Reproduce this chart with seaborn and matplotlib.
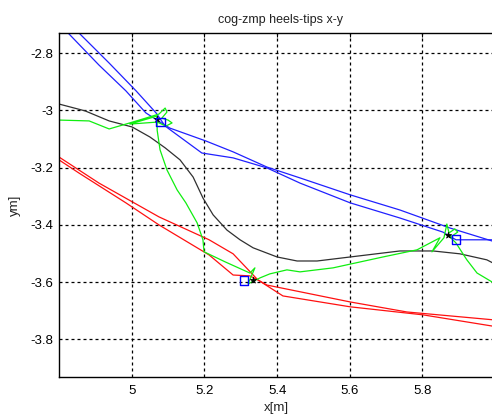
import matplotlib
matplotlib.use("Agg")
import matplotlib.pyplot as plt
import seaborn as sns
import numpy as np

# ---- data ----
cog_x = [4.800, 4.872, 4.938, 5.001, 5.050, 5.092, 5.133, 5.169, 5.196, 5.224, 5.262,
         5.298, 5.334, 5.400, 5.455, 5.510, 5.601, 5.738, 5.829, 5.903, 5.977, 6.041]
cog_y = [-2.978, -3.002, -3.037, -3.058, -3.093, -3.131, -3.173, -3.233, -3.306, -3.365,
         -3.418, -3.452, -3.480, -3.512, -3.526, -3.526, -3.512, -3.491, -3.491, -3.501,
         -3.522, -3.564]

blueA_x = [4.803, 4.825, 4.910, 4.984, 5.039, 5.078, 5.105, 5.204, 5.279, 5.372, 5.463,
           5.601, 5.738, 5.876, 5.991, 6.068]
blueA_y = [-2.702, -2.730, -2.842, -2.932, -3.009, -3.041, -3.062, -3.107, -3.145, -3.198,
           -3.236, -3.295, -3.348, -3.411, -3.456, -3.484]
blueB_x = [4.833, 4.855, 4.938, 5.012, 5.067, 5.092, 5.193, 5.279, 5.372, 5.463, 5.601,
           5.738, 5.856, 5.892, 5.991, 6.068]
blueB_y = [-2.702, -2.730, -2.835, -2.932, -3.009, -3.055, -3.149, -3.166, -3.201, -3.254,
           -3.323, -3.376, -3.425, -3.452, -3.452, -3.452]

redA_x = [4.775, 4.800, 4.910, 5.075, 5.213, 5.279, 5.347, 5.416, 5.601, 5.801, 5.991, 6.068]
redA_y = [-3.145, -3.163, -3.254, -3.372, -3.452, -3.501, -3.592, -3.648, -3.686, -3.714,
          -3.753, -3.770]
redB_x = [4.775, 4.800, 4.855, 4.984, 5.075, 5.213, 5.279, 5.325, 5.347, 5.372, 5.601,
          5.757, 5.991, 6.068]
redB_y = [-3.156, -3.173, -3.219, -3.323, -3.400, -3.505, -3.575, -3.578, -3.592, -3.610,
          -3.669, -3.704, -3.731, -3.745]

zmp_x = [4.800, 4.883, 4.938, 4.984, 5.039, 5.075, 5.092, 5.097, 5.083, 5.100, 5.111,
         5.094, 5.070, 4.995, 5.070, 5.070, 5.078, 5.097, 5.125, 5.149, 5.180, 5.196,
         5.199, 5.257, 5.325, 5.339, 5.320, 5.353, 5.380, 5.427, 5.463, 5.554, 5.691,
         5.785, 5.848, 5.826, 5.859, 5.867, 5.873, 5.889, 5.897, 5.881, 5.870, 5.892,
         5.922, 5.950, 5.991, 6.068]
zmp_y = [-3.034, -3.037, -3.065, -3.048, -3.027, -3.013, -2.992, -3.006, -3.027, -3.034,
         -3.044, -3.055, -3.041, -3.048, -3.020, -3.069, -3.138, -3.208, -3.278, -3.323,
         -3.393, -3.452, -3.494, -3.529, -3.568, -3.550, -3.606, -3.585, -3.571, -3.557,
         -3.564, -3.550, -3.512, -3.487, -3.445, -3.494, -3.445, -3.397, -3.428, -3.414,
         -3.425, -3.439, -3.435, -3.463, -3.522, -3.568, -3.599, -3.662]

step_x = [5.069, 5.333, 5.871]
step_y = [-3.030, -3.592, -3.435]
square_x = [5.079, 5.309, 5.892]
square_y = [-3.041, -3.594, -3.452]

xticks = [5.0, 5.2, 5.4, 5.6, 5.8, 6.0]
xtick_labels = ["5", "5.2", "5.4", "5.6", "5.8", "6"]
yticks = [-3.8, -3.6, -3.4, -3.2, -3.0, -2.8]
ytick_labels = ["-3.8", "-3.6", "-3.4", "-3.2", "-3", "-2.8"]

# ---- plot ----
sns.set_style("white")
plt.rcParams['font.family'] = ['Liberation Sans', 'DejaVu Sans']

fig = plt.figure(figsize=(4.92, 4.17), dpi=100)
fig.patch.set_facecolor("white")
ax = fig.add_axes([59/492, 40.3/417, 508.9/492, 343.7/417])
ax.set_facecolor("white")

lw = 0.9
sns.lineplot(x=redA_x, y=redA_y, sort=False, estimator=None, color="#ff1010", lw=lw, ax=ax)
sns.lineplot(x=redB_x, y=redB_y, sort=False, estimator=None, color="#ff1010", lw=lw, ax=ax)
sns.lineplot(x=blueA_x, y=blueA_y, sort=False, estimator=None, color="#2020ff", lw=lw, ax=ax)
sns.lineplot(x=blueB_x, y=blueB_y, sort=False, estimator=None, color="#2020ff", lw=lw, ax=ax)
sns.lineplot(x=cog_x, y=cog_y, sort=False, estimator=None, color="#303030", lw=lw, ax=ax)
sns.lineplot(x=zmp_x, y=zmp_y, sort=False, estimator=None, color="#10ee10", lw=lw, ax=ax)
sns.scatterplot(x=step_x, y=step_y, marker="*", s=22, color="black", edgecolor="black",
                linewidth=0.5, ax=ax, zorder=5)
sns.scatterplot(x=square_x, y=square_y, marker="s", s=40, facecolor="none",
                edgecolor="#0000ff", linewidth=1.0, ax=ax, zorder=6)

ax.set_xlim(4.8, 6.2)
ax.set_ylim(-3.93, -2.73)
ax.set_xticks(xticks)
ax.set_xticklabels(xtick_labels)
ax.set_yticks(yticks)
ax.set_yticklabels(ytick_labels)
ax.tick_params(direction="in", length=3, width=0.8, colors="black", labelsize=9.5,
               pad=4, top=True, right=True)
ax.tick_params(axis="x", pad=6)
ax.grid(True, color="black", linestyle=(0, (2.4, 2.4)), linewidth=0.9)
for s in ax.spines.values():
    s.set_color("black")
    s.set_linewidth(1.0)
    s.set_visible(True)

ax.set_title("cog-zmp heels-tips x-y", fontsize=9, pad=7, color="#222222")
ax.set_xlabel("x[m]", fontsize=9.5, labelpad=2, color="#222222")
ax.set_ylabel("ym]", fontsize=9.5, color="#222222")
ax.title.set_position((0.436, 1.0))
ax.xaxis.set_label_coords((276.7 - 59) / 508.9, -0.075)
ax.yaxis.set_label_coords(-(59 - 20.5) / 508.9, 0.5)

fig.savefig("out.png", dpi=100, facecolor="white")
